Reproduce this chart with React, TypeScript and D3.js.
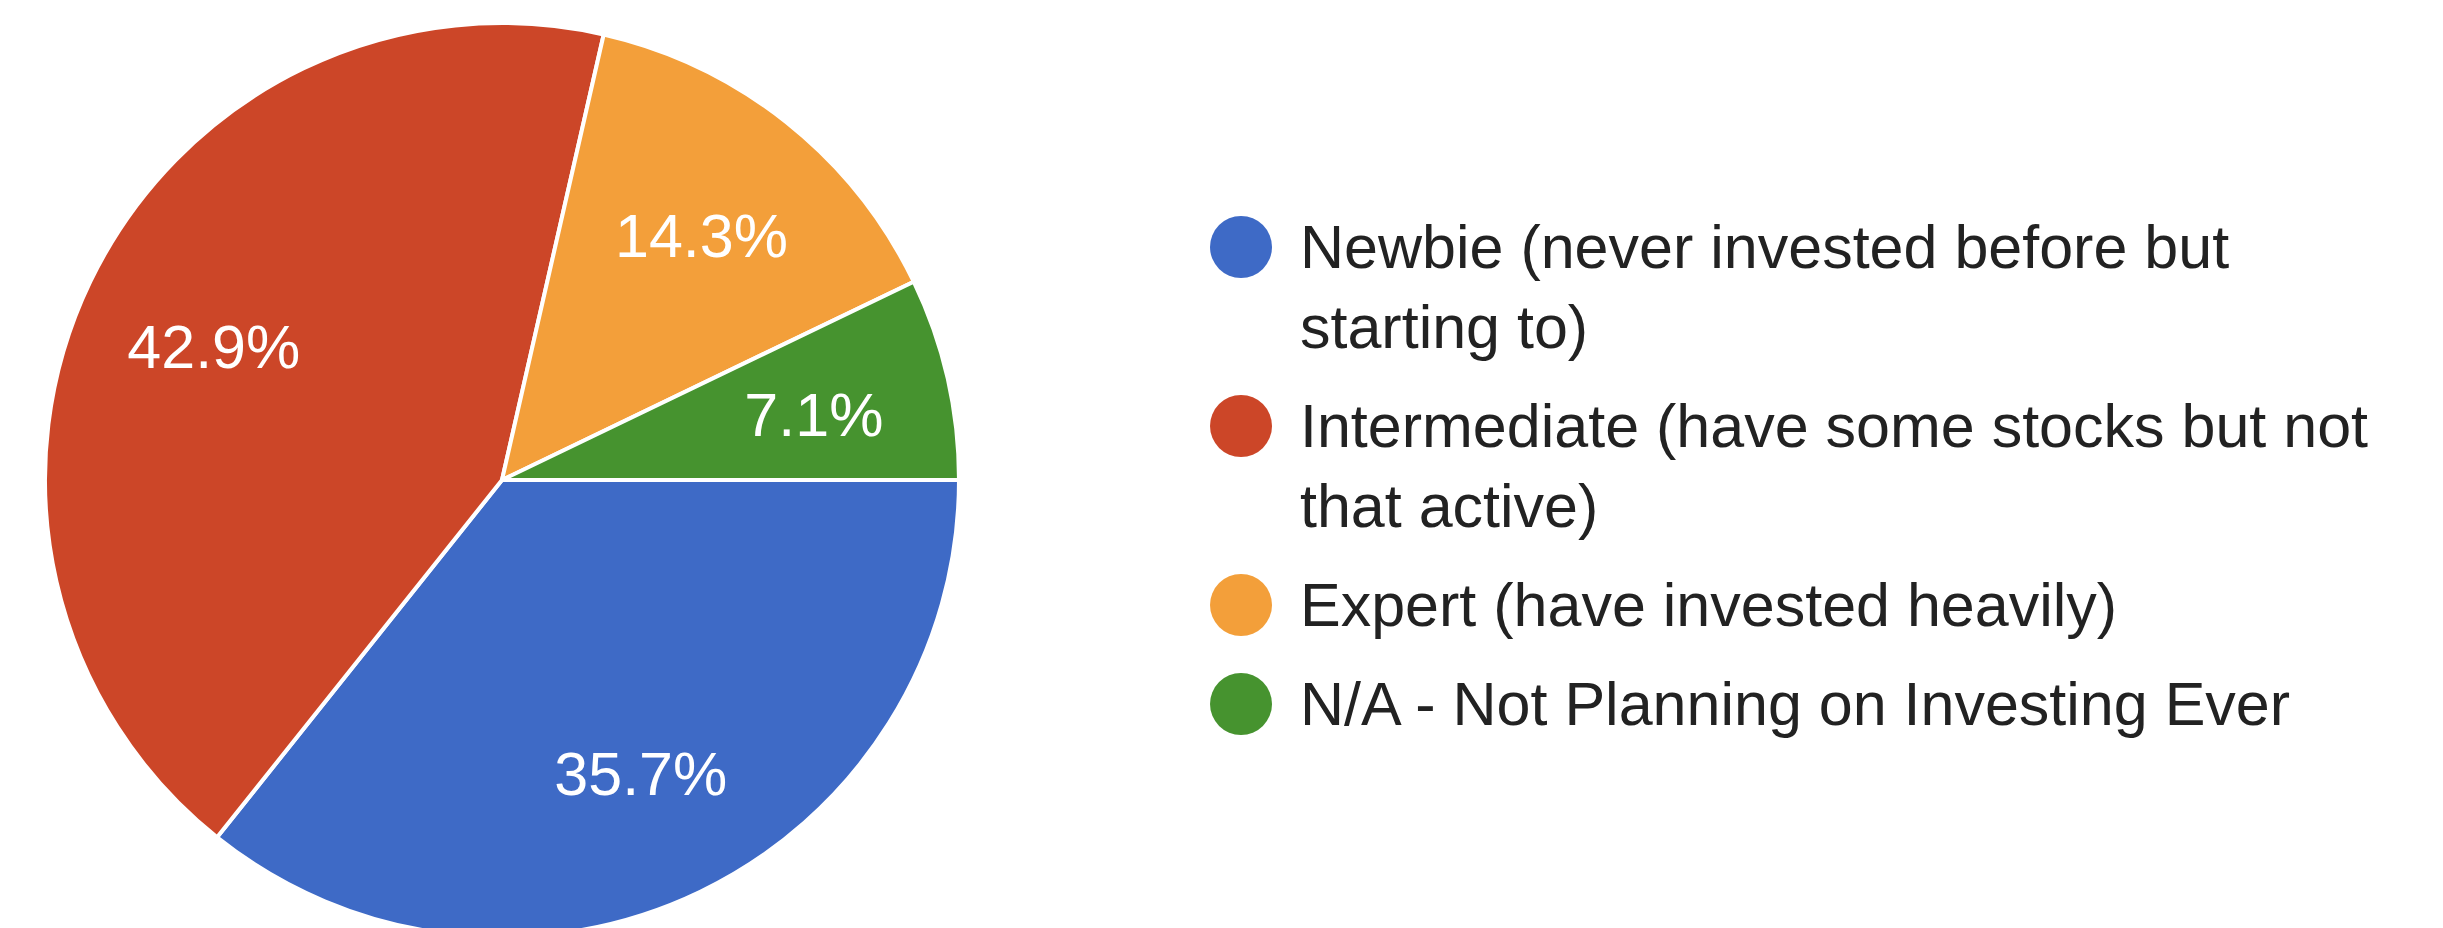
import React from "react";
import * as d3 from "d3";

const categories = [
  "Newbie (never invested before but starting to)",
  "Intermediate (have some stocks but not that active)",
  "Expert (have invested heavily)",
  "N/A - Not Planning on Investing Ever",
];
const legendLines = [
  ["Newbie (never invested before but", "starting to)"],
  ["Intermediate (have some stocks but not", "that active)"],
  ["Expert (have invested heavily)"],
  ["N/A - Not Planning on Investing Ever"],
];
const counts = [5, 6, 2, 1];
const colors = ["#3E6AC6", "#CC4628", "#F39F3A", "#46932F"];

const W = 2443;
const H = 928;
const CX = 502;
const CY = 480;
const R = 457;
const FONT = "'Liberation Sans', Arial, Helvetica, sans-serif";

export default function App() {
  const total = d3.sum(counts);
  const pie = d3
    .pie<number>()
    .sort(null)
    .value((d) => d)
    .startAngle(Math.PI / 2)
    .endAngle(Math.PI / 2 + 2 * Math.PI);
  const arcs = pie(counts);
  const arc = d3.arc<d3.PieArcDatum<number>>().innerRadius(0).outerRadius(R);
  const labelArc = d3
    .arc<d3.PieArcDatum<number>>()
    .innerRadius(R * 0.7)
    .outerRadius(R * 0.7);

  const legendX = 1241;
  const textX = 1300;
  const firstBaseline = 268;
  const lineH = 80;
  const itemGap = 99;
  let y = firstBaseline;
  const legendItems = legendLines.map((lines, i) => {
    const base = y;
    y += (lines.length - 1) * lineH + itemGap;
    return { lines, base, i };
  });

  return (
    <svg
      width={W}
      height={H}
      style={{ position: "absolute", left: 0, top: 0, background: "#fff" }}
      overflow="hidden"
    >
      <rect width={W} height={H} fill="#fff" />
      <g transform={`translate(${CX},${CY})`}>
        {arcs.map((a, i) => (
          <path
            key={categories[i]}
            d={arc(a) || ""}
            fill={colors[i]}
            stroke="#fff"
            strokeWidth={4}
            strokeLinejoin="round"
          />
        ))}
        {arcs.map((a, i) => {
          const [x, yy] = labelArc.centroid(a);
          return (
            <text
              key={"l" + i}
              x={x}
              y={yy}
              dy="0.44em"
              textAnchor="middle"
              fill="#fff"
              fontFamily={FONT}
              fontSize={61}
            >
              {d3.format(".1%")(a.data / total)}
            </text>
          );
        })}
      </g>
      <g>
        {legendItems.map(({ lines, base, i }) => (
          <g key={"lg" + i}>
            <circle cx={legendX} cy={base - 21} r={31} fill={colors[i]} />
            {lines.map((ln, j) => (
              <text
                key={j}
                x={textX}
                y={base + j * lineH}
                fill="#222"
                fontFamily={FONT}
                fontSize={61}
              >
                {ln}
              </text>
            ))}
          </g>
        ))}
      </g>
    </svg>
  );
}
